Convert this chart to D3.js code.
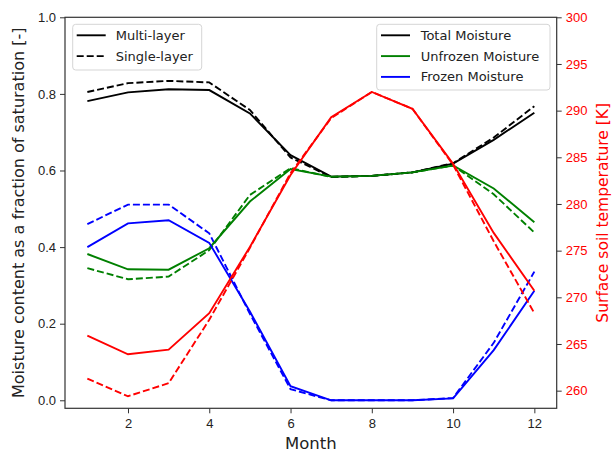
<!DOCTYPE html>
<html>
<head>
<meta charset="utf-8">
<script src="https://cdn.jsdelivr.net/npm/d3@7"></script>
<style>
  body { margin: 0; background: #fff; }
  svg { font-family: "DejaVu Sans", sans-serif; }
</style>
</head>
<body>
<div id="chart"></div>
<script>
// values
const months = [1, 2, 3, 4, 5, 6, 7, 8, 9, 10, 11, 12]
const totalMulti = [0.781, 0.804, 0.812, 0.810, 0.749, 0.640, 0.584, 0.586, 0.595, 0.618, 0.680, 0.751]
const totalSingle = [0.805, 0.828, 0.834, 0.830, 0.758, 0.634, 0.583, 0.586, 0.595, 0.619, 0.686, 0.768]
const unfrozenMulti = [0.382, 0.342, 0.341, 0.397, 0.519, 0.604, 0.584, 0.586, 0.595, 0.613, 0.553, 0.465]
const unfrozenSingle = [0.345, 0.316, 0.323, 0.392, 0.536, 0.606, 0.583, 0.586, 0.595, 0.613, 0.538, 0.438]
const frozenMulti = [0.400, 0.462, 0.470, 0.411, 0.232, 0.037, 0.0, 0.0, 0.0, 0.005, 0.131, 0.286]
const frozenSingle = [0.460, 0.511, 0.511, 0.436, 0.226, 0.029, 0.0, 0.0, 0.0, 0.006, 0.150, 0.336]
const tempMulti = [265.9, 263.9, 264.4, 268.3, 275.4, 283.1, 289.3, 292.0, 290.2, 284.3, 276.9, 270.7]
const tempSingle = [261.3, 259.4, 260.8, 267.6, 275.3, 283.3, 289.2, 292.0, 290.2, 284.2, 276.0, 268.3]

const xTicks = [2, 4, 6, 8, 10, 12]
const yTicks = [0.0, 0.2, 0.4, 0.6, 0.8, 1.0]
const tTicks = [260, 265, 270, 275, 280, 285, 290, 295, 300]

const width = 613, height = 452
const margin = ({top: 17.3, right: 56.3, bottom: 43.7, left: 65})
const axisColor = "#333"

const svg = d3.select("#chart").append("svg")
  .attr("width", width)
  .attr("height", height)

const x = d3.scaleLinear()
  .domain([0.45, 12.55])
  .range([margin.left, width - margin.right])

const y = d3.scaleLinear()
  .domain([-0.0209, 1.0])
  .range([height - margin.bottom, margin.top])

const yT = d3.scaleLinear()
  .domain([258.11, 300])
  .range([height - margin.bottom, margin.top])

const line = scale => d3.line()
  .x((_, i) => x(months[i]))
  .y(d => scale(d))

// moisture series (left axis)
const moisture = [
  {values: totalSingle, color: "black", dash: true},
  {values: unfrozenSingle, color: "green", dash: true},
  {values: frozenSingle, color: "blue", dash: true},
  {values: totalMulti, color: "black", dash: false},
  {values: unfrozenMulti, color: "green", dash: false},
  {values: frozenMulti, color: "blue", dash: false},
]

svg.append("g")
  .selectAll("path")
  .data(moisture)
  .join("path")
    .attr("d", d => line(y)(d.values))
    .attr("fill", "none")
    .attr("stroke", d => d.color)
    .attr("stroke-width", 1.9)
    .attr("stroke-dasharray", d => d.dash ? "7,3" : null)

// temperature (right axis), drawn on top
svg.append("g")
  .selectAll("path")
  .data([{values: tempMulti, dash: false}, {values: tempSingle, dash: true}])
  .join("path")
    .attr("d", d => line(yT)(d.values))
    .attr("fill", "none")
    .attr("stroke", "red")
    .attr("stroke-width", 1.9)
    .attr("stroke-dasharray", d => d.dash ? "7,3" : null)

// axes
const styleAxis = (g, color) => {
  g.select(".domain").remove()
  g.selectAll(".tick line").attr("stroke", axisColor).attr("stroke-width", 1)
  g.selectAll(".tick text").attr("fill", color).attr("font-size", 13)
}

svg.append("g")
  .attr("transform", `translate(0,${height - margin.bottom})`)
  .call(d3.axisBottom(x).tickValues(xTicks).tickSize(5).tickPadding(5).tickFormat(d3.format("d")))
  .call(g => styleAxis(g, "#222"))

svg.append("g")
  .attr("transform", `translate(${margin.left},0)`)
  .call(d3.axisLeft(y).tickValues(yTicks).tickSize(5).tickPadding(4).tickFormat(d3.format(".1f")))
  .call(g => styleAxis(g, "#222"))

svg.append("g")
  .attr("transform", `translate(${width - margin.right},0)`)
  .call(d3.axisRight(yT).tickValues(tTicks).tickSize(5).tickPadding(4).tickFormat(d3.format("d")))
  .call(g => styleAxis(g, "red"))

// frame
svg.append("rect")
  .attr("x", margin.left)
  .attr("y", margin.top)
  .attr("width", width - margin.left - margin.right)
  .attr("height", height - margin.top - margin.bottom)
  .attr("fill", "none")
  .attr("stroke", axisColor)
  .attr("stroke-width", 1.2)

// axis labels
svg.append("text")
  .attr("x", (margin.left + width - margin.right) / 2)
  .attr("y", 449)
  .attr("text-anchor", "middle")
  .attr("font-size", 16.5)
  .attr("fill", "#222")
  .text("Month")

svg.append("text")
  .attr("transform", `translate(24,${(margin.top + height - margin.bottom) / 2}) rotate(-90)`)
  .attr("text-anchor", "middle")
  .attr("font-size", 16)
  .attr("fill", "#222")
  .text("Moisture content as a fraction of saturation [-]")

svg.append("text")
  .attr("transform", `translate(608,${(margin.top + height - margin.bottom) / 2}) rotate(-90)`)
  .attr("text-anchor", "middle")
  .attr("font-size", 15.5)
  .attr("fill", "red")
  .text("Surface soil temperature [K]")

// legends
function legend(items, bx, by, bw, bh, handleX, textX) {
  const g = svg.append("g")
  g.append("rect")
    .attr("x", bx).attr("y", by)
    .attr("width", bw).attr("height", bh)
    .attr("rx", 3)
    .attr("fill", "white").attr("fill-opacity", 0.8)
    .attr("stroke", "#d5d5d5")
  const row = g.selectAll(".row")
    .data(items)
    .join("g")
      .attr("transform", (_, i) => `translate(0,${by + 11 + i * 20.8})`)
  row.append("line")
    .attr("x1", handleX).attr("x2", handleX + 29)
    .attr("stroke", d => d.color)
    .attr("stroke-width", 1.9)
    .attr("stroke-dasharray", d => d.dash ? "7,3" : null)
  row.append("text")
    .attr("x", textX)
    .attr("dy", "0.35em")
    .attr("font-size", 13)
    .attr("fill", "#222")
    .text(d => d.label)
}

legend([
  {label: "Multi-layer", color: "black", dash: false},
  {label: "Single-layer", color: "black", dash: true},
], 72.7, 24.3, 129, 45.7, 76.7, 115.7)

legend([
  {label: "Total Moisture", color: "black", dash: false},
  {label: "Unfrozen Moisture", color: "green", dash: false},
  {label: "Frozen Moisture", color: "blue", dash: false},
], 376.7, 24.3, 173.3, 65.7, 381, 420.7)
</script>
</body>
</html>
